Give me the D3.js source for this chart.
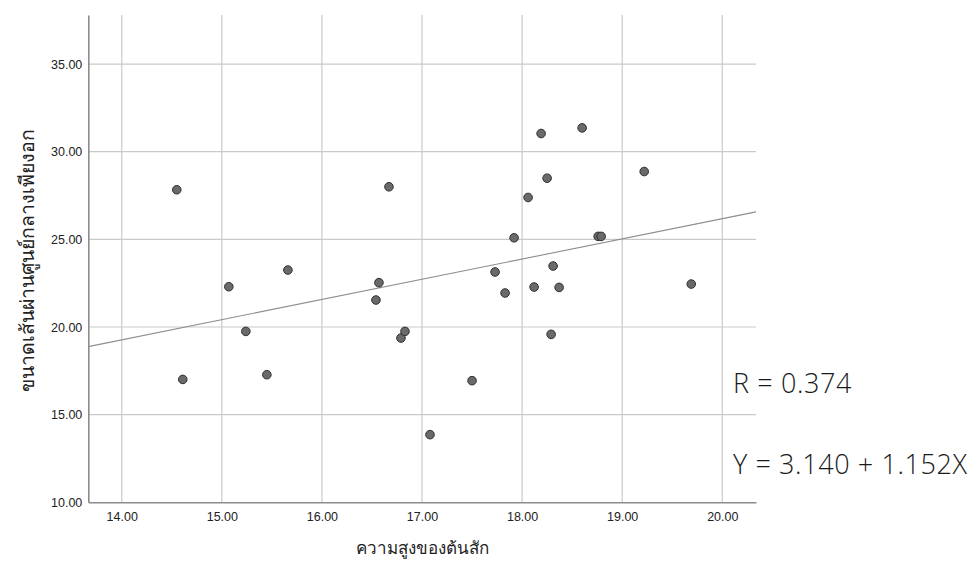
<!DOCTYPE html>
<html>
<head>
<meta charset="utf-8">
<script src="https://cdn.jsdelivr.net/npm/d3@7"></script>
<style>
  html, body { margin: 0; padding: 0; background: #fff; }
  svg { display: block; }
  .tick text { font-family: "Liberation Sans", Arial, sans-serif; font-size: 12.5px; fill: #222; }
</style>
</head>
<body>
<svg id="chart" width="977" height="561"></svg>
<script>
// Teak tree height vs. chest-height diameter
const treeHeight = [
  14.55, 14.61, 15.07, 15.24, 15.45, 15.66, 16.54, 16.57, 16.67, 16.79,
  16.83, 17.08, 17.50, 17.73, 17.83, 17.92, 18.06, 18.12, 18.19, 18.25,
  18.29, 18.31, 18.37, 18.60, 18.76, 18.79, 19.22, 19.69
];
const chestDiameter = [
  27.83, 17.01, 22.30, 19.75, 17.28, 23.25, 21.54, 22.53, 28.00, 19.37,
  19.75, 13.86, 16.94, 23.14, 21.94, 25.09, 27.39, 22.28, 31.04, 28.49,
  19.58, 23.48, 22.26, 31.36, 25.17, 25.17, 28.87, 22.45
];
const xTicks = [14, 15, 16, 17, 18, 19, 20];
const yTicks = [10, 15, 20, 25, 30, 35];
const xDomain = [13.666, 20.337];
const yDomain = [10, 37.8];
const fitIntercept = 3.140;
const fitSlope = 1.152;
const fitR = 0.374;
const xTitle = "ความสูงของต้นสัก";
const yTitle = "ขนาดเส้นผ่านศูนย์กลางเพียงอก";

const svg = d3.select("#chart");
const plot = { left: 88.3, right: 756, top: 15, bottom: 502.3 };

const x = d3.scaleLinear().domain(xDomain).range([plot.left, plot.right]);
const y = d3.scaleLinear().domain(yDomain).range([plot.bottom, plot.top]);
const fmt = d3.format(".2f");

// grid
const grid = svg.append("g").attr("stroke", "#c9c9c9").attr("stroke-width", 1.2);
grid.selectAll("line.v").data(xTicks).join("line")
  .attr("x1", d => x(d)).attr("x2", d => x(d))
  .attr("y1", plot.top).attr("y2", plot.bottom);
grid.selectAll("line.h").data(yTicks.filter(d => d !== yDomain[0])).join("line")
  .attr("x1", plot.left).attr("x2", plot.right)
  .attr("y1", d => y(d)).attr("y2", d => y(d));

// axes
const xAxis = svg.append("g")
  .attr("transform", `translate(0,${plot.bottom})`)
  .call(d3.axisBottom(x).tickValues(xTicks).tickFormat(fmt).tickSize(0).tickPadding(10));
const yAxis = svg.append("g")
  .attr("transform", `translate(${plot.left},0)`)
  .call(d3.axisLeft(y).tickValues(yTicks).tickFormat(fmt).tickSize(0).tickPadding(6));
[xAxis, yAxis].forEach(a => {
  a.select(".domain").attr("stroke", "#8c8c8c").attr("stroke-width", 1.6);
});

// fit line
const fx = d => fitIntercept + fitSlope * d;
svg.append("line")
  .attr("x1", x(xDomain[0])).attr("y1", y(fx(xDomain[0])))
  .attr("x2", x(xDomain[1])).attr("y2", y(fx(xDomain[1])))
  .attr("stroke", "#8e8e8e").attr("stroke-width", 1.1);

// points
svg.append("g").selectAll("circle")
  .data(treeHeight.map((h, i) => [h, chestDiameter[i]]))
  .join("circle")
  .attr("cx", d => x(d[0])).attr("cy", d => y(d[1]))
  .attr("r", 4.3)
  .attr("fill", "#6a6a6a").attr("stroke", "#2e2e2e").attr("stroke-width", 1);

// axis titles
svg.append("text")
  .attr("x", (plot.left + plot.right) / 2).attr("y", 554)
  .attr("text-anchor", "middle")
  .attr("font-family", "Tahoma, 'Noto Sans', 'DejaVu Sans', sans-serif")
  .attr("font-size", 17).attr("font-weight", 300).attr("fill", "#222")
  .text(xTitle);
svg.append("text")
  .attr("transform", `translate(34,${(plot.top + plot.bottom) / 2 + 2}) rotate(-90)`)
  .attr("text-anchor", "middle")
  .attr("font-family", "Tahoma, 'Noto Sans', 'DejaVu Sans', sans-serif")
  .attr("font-size", 19.5).attr("font-weight", 300).attr("fill", "#222")
  .text(yTitle);

// fit annotations
const note = svg.append("g")
  .attr("font-family", "'Open Sans', 'Liberation Sans', sans-serif")
  .attr("font-weight", 300).attr("font-size", 27).attr("fill", "#1a1a1a")
  .attr("letter-spacing", 0.6);
note.append("text").attr("x", 733).attr("y", 393).text(`R = ${fitR.toFixed(3)}`);
note.append("text").attr("x", 733).attr("y", 474)
  .text(`Y = ${fitIntercept.toFixed(3)} + ${fitSlope.toFixed(3)}X`);
</script>
</body>
</html>
